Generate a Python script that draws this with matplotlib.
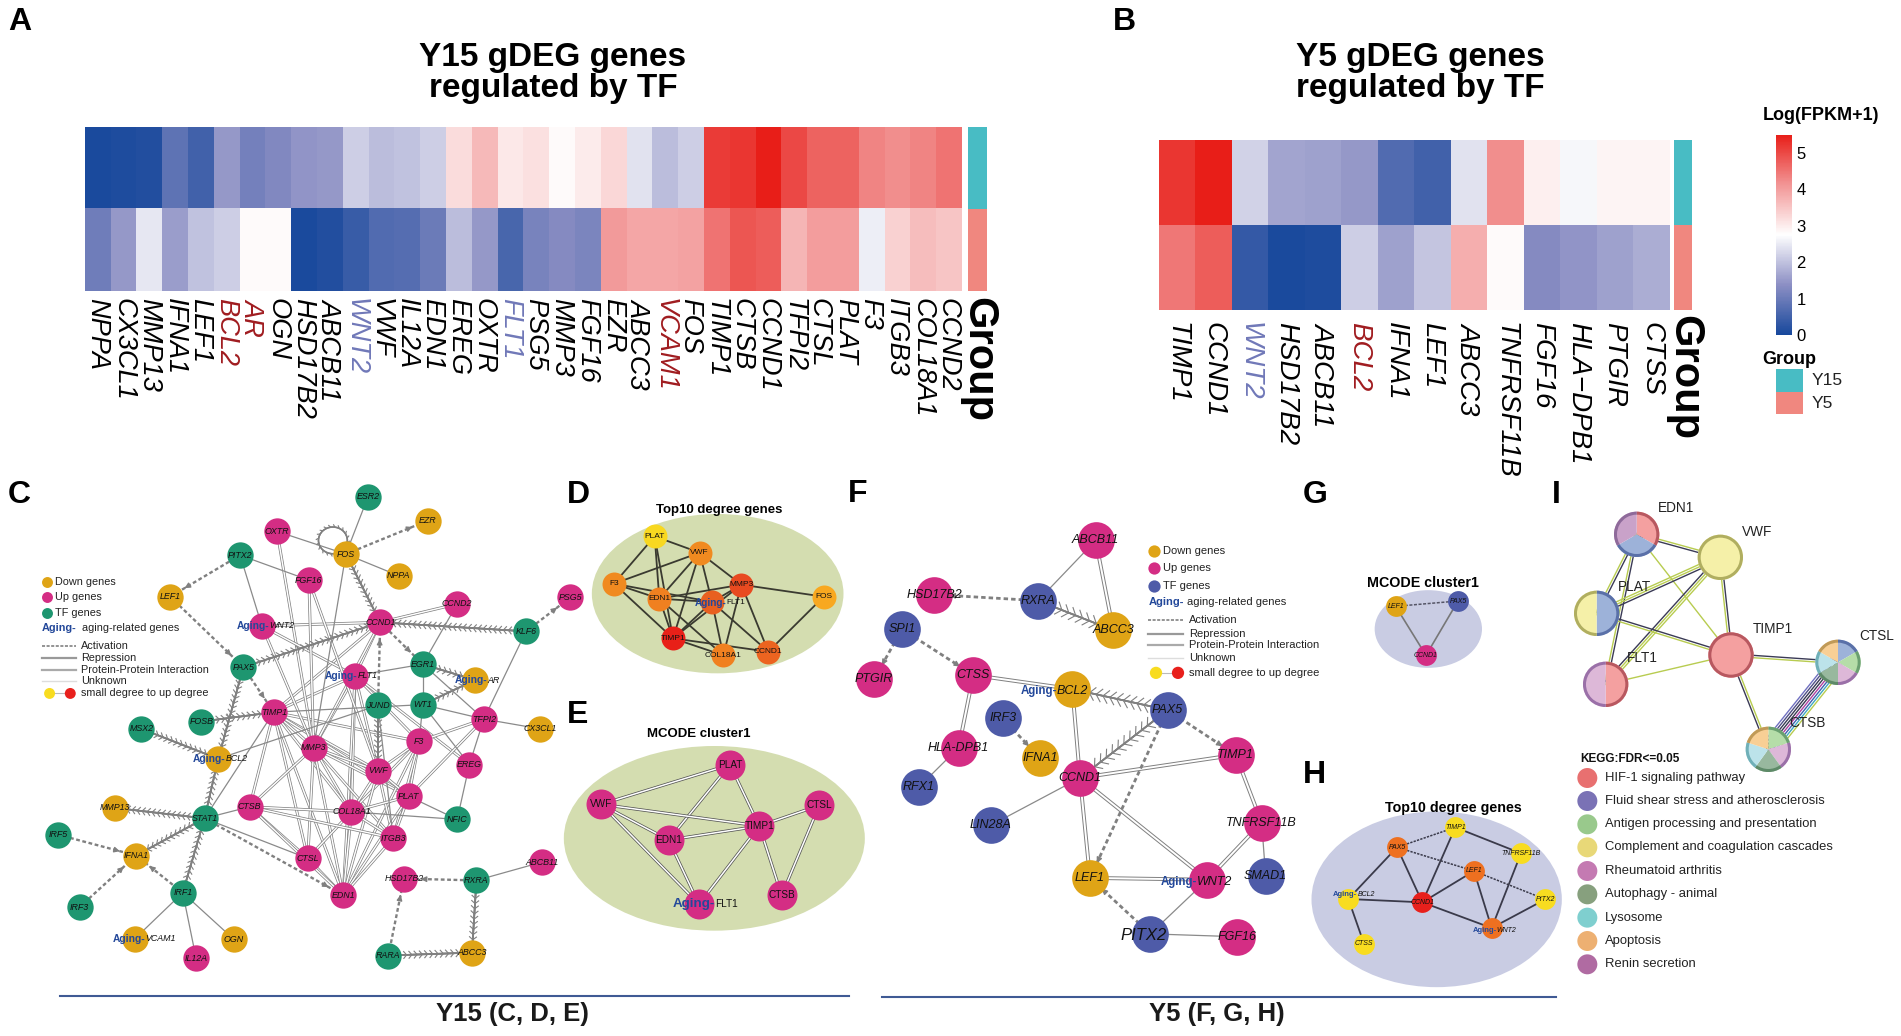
import numpy as np
import matplotlib
matplotlib.use('Agg')
import matplotlib.pyplot as plt
import matplotlib.patheffects as pe
from matplotlib.colors import LinearSegmentedColormap
from matplotlib.patches import Ellipse

plt.rcParams['font.family'] = ['Liberation Sans', 'DejaVu Sans']

W, H = 1901, 1036

# heatmap A
genes_a = ['NPPA', 'CX3CL1', 'MMP13', 'IFNA1', 'LEF1', 'BCL2', 'AR', 'OGN', 'HSD17B2', 'ABCB11', 'WNT2', 'VWF',
           'IL12A', 'EDN1', 'EREG', 'OXTR', 'FLT1', 'PSG5', 'MMP3', 'FGF16', 'EZR', 'ABCC3', 'VCAM1', 'FOS',
           'TIMP1', 'CTSB', 'CCND1', 'TFPI2', 'CTSL', 'PLAT', 'F3', 'ITGB3', 'COL18A1', 'CCND2']
y15_a = [0.05, 0.1, 0.15, 0.85, 0.5, 1.5, 1.1, 1.25, 1.45, 1.5, 2.15, 1.95, 2.0, 2.15, 3.2, 3.65, 3.05, 3.15, 2.8,
         3.0, 3.25, 2.4, 1.95, 2.15, 5.15, 5.2, 5.5, 5.0, 4.7, 4.7, 4.3, 4.2, 4.3, 4.5]
y5_a = [1.05, 1.5, 2.45, 1.55, 2.0, 2.15, 2.8, 2.8, 0.05, 0.15, 0.4, 0.7, 0.75, 1.0, 1.95, 1.5, 0.6, 1.15, 1.3,
        1.2, 4.05, 3.9, 3.9, 3.95, 4.5, 4.85, 4.75, 3.7, 4.0, 4.0, 2.55, 3.35, 3.6, 3.5]

# heatmap B
genes_b = ['TIMP1', 'CCND1', 'WNT2', 'HSD17B2', 'ABCB11', 'BCL2', 'IFNA1', 'LEF1', 'ABCC3', 'TNFRSF11B', 'FGF16',
           'HLA\u2212DPB1', 'PTGIR', 'CTSS']
y15_b = [5.2, 5.5, 2.2, 1.65, 1.6, 1.5, 0.7, 0.5, 2.4, 4.2, 2.95, 2.65, 2.9, 2.9]
y5_b = [4.45, 4.75, 0.35, 0.05, 0.1, 2.15, 1.6, 2.05, 3.8, 2.8, 1.3, 1.45, 1.6, 1.75]

red_genes = ['BCL2', 'AR', 'VCAM1']
blue_genes = ['WNT2', 'FLT1']

# network C, node: (x, y, kind)
nodes_c = {'ESR2': (995, 74, 't'), 'EZR': (1157, 140, 'd'), 'OXTR': (749, 170, 'u'), 'FOS': (935, 233, 'd'),
           'PITX2': (649, 236, 't'), 'NPPA': (1078, 293, 'd'), 'FGF16': (835, 305, 'u'), 'LEF1': (460, 351, 'd'),
           'CCND2': (1236, 371, 'u'), 'PSG5': (1542, 353, 'u'), 'WNT2': (708, 432, 'u'), 'CCND1': (1028, 422, 'u'),
           'KLF6': (1422, 447, 't'), 'EGR1': (1143, 538, 't'), 'PAX5': (658, 546, 't'), 'FLT1': (960, 570, 'u'),
           'AR': (1284, 582, 'd'), 'TIMP1': (740, 671, 'u'), 'JUND': (1022, 652, 't'), 'WT1': (1143, 650, 't'),
           'TFPI2': (1308, 690, 'u'), 'FOSB': (544, 697, 't'), 'MSX2': (382, 717, 't'), 'CX3CL1': (1460, 717, 'd'),
           'F3': (1133, 752, 'u'), 'MMP3': (848, 769, 'u'), 'BCL2': (590, 800, 'd'), 'EREG': (1269, 816, 'u'),
           'VWF': (1022, 833, 'u'), 'PLAT': (1105, 904, 'u'), 'CTSB': (675, 933, 'u'), 'COL18A1': (950, 947, 'u'),
           'MMP13': (310, 936, 'd'), 'STAT1': (553, 965, 't'), 'NFIC': (1236, 968, 't'), 'IRF5': (156, 1010, 't'),
           'ITGB3': (1063, 1020, 'u'), 'IFNA1': (368, 1068, 'd'), 'CTSL': (832, 1076, 'u'),
           'ABCB11': (1466, 1086, 'u'), 'HSD17B2': (1092, 1132, 'u'), 'RXRA': (1288, 1137, 't'),
           'IRF1': (494, 1171, 't'), 'EDN1': (928, 1178, 'u'), 'IRF3': (215, 1211, 't'), 'VCAM1': (365, 1298, 'd'),
           'OGN': (632, 1300, 'd'), 'RARA': (1050, 1345, 't'), 'ABCC3': (1276, 1337, 'd'), 'IL12A': (530, 1352, 'u')}
ppi_c = [('WNT2', 'CCND1'), ('CCND1', 'CCND2'), ('TIMP1', 'CCND1'), ('TIMP1', 'FLT1'), ('TIMP1', 'MMP3'),
         ('TIMP1', 'VWF'), ('TIMP1', 'PLAT'), ('TIMP1', 'F3'), ('TIMP1', 'CTSB'), ('TIMP1', 'CTSL'), ('TIMP1', 'EDN1'),
         ('TIMP1', 'COL18A1'), ('OXTR', 'MMP3'), ('WNT2', 'FLT1'), ('WNT2', 'MMP3'), ('FLT1', 'COL18A1'),
         ('FLT1', 'EDN1'), ('FLT1', 'CCND1'), ('FLT1', 'F3'), ('FLT1', 'VWF'), ('FLT1', 'EREG'), ('MMP3', 'FLT1'),
         ('MMP3', 'VWF'), ('MMP3', 'PLAT'), ('MMP3', 'ITGB3'), ('MMP3', 'COL18A1'), ('MMP3', 'EDN1'), ('MMP3', 'CTSL'),
         ('MMP3', 'CTSB'), ('CCND1', 'MMP3'), ('FGF16', 'MMP3'), ('FGF16', 'VWF'), ('F3', 'TFPI2'), ('F3', 'VWF'),
         ('F3', 'PLAT'), ('F3', 'EDN1'), ('F3', 'ITGB3'), ('F3', 'COL18A1'), ('VWF', 'PLAT'), ('VWF', 'COL18A1'),
         ('VWF', 'EDN1'), ('VWF', 'ITGB3'), ('PLAT', 'TFPI2'), ('PLAT', 'EDN1'), ('PLAT', 'COL18A1'), ('PLAT', 'ITGB3'),
         ('COL18A1', 'CTSB'), ('COL18A1', 'CTSL'), ('COL18A1', 'EDN1'), ('COL18A1', 'ITGB3'), ('CTSB', 'CTSL'),
         ('CTSB', 'ITGB3'), ('CTSL', 'EDN1'), ('ITGB3', 'EDN1'), ('CTSB', 'EDN1')]
act_c = [('FOS', 'EZR'), ('PITX2', 'LEF1'), ('LEF1', 'PAX5'), ('PAX5', 'TIMP1'), ('KLF6', 'PSG5'), ('CCND1', 'EGR1'),
         ('JUND', 'CCND1'), ('IRF5', 'IFNA1'), ('IRF3', 'IFNA1'), ('IRF1', 'IFNA1'), ('STAT1', 'EDN1'),
         ('RXRA', 'HSD17B2'), ('RARA', 'HSD17B2')]
rep_c = [('FOS', 'CCND1'), ('KLF6', 'CCND1'), ('PAX5', 'CCND1'), ('EGR1', 'AR'), ('WT1', 'AR'), ('FOSB', 'TIMP1'),
         ('MSX2', 'BCL2'), ('PAX5', 'BCL2'), ('STAT1', 'BCL2'), ('STAT1', 'MMP13'), ('STAT1', 'IFNA1'),
         ('IRF1', 'STAT1'), ('RXRA', 'ABCC3'), ('RARA', 'ABCC3'), ('JUND', 'VWF')]
unk_c = [('ESR2', 'FOS'), ('OXTR', 'FOS'), ('FOS', 'NPPA'), ('PITX2', 'FGF16'), ('PITX2', 'WNT2'), ('FOS', 'MMP3'),
         ('CCND2', 'EGR1'), ('KLF6', 'TFPI2'), ('FLT1', 'EGR1'), ('WT1', 'EGR1'), ('WT1', 'F3'), ('WT1', 'EREG'),
         ('WT1', 'TFPI2'), ('EGR1', 'TFPI2'), ('TIMP1', 'WT1'), ('TFPI2', 'CX3CL1'), ('TFPI2', 'EREG'),
         ('EREG', 'NFIC'), ('PLAT', 'NFIC'), ('COL18A1', 'NFIC'), ('BCL2', 'JUND'), ('STAT1', 'CTSB'), ('STAT1', 'CTSL'),
         ('STAT1', 'TIMP1'), ('IRF1', 'VCAM1'), ('IRF1', 'IL12A'), ('IRF1', 'OGN'), ('RXRA', 'ABCB11'),
         ('JUND', 'ITGB3')]
aging_c = {'WNT2': 728, 'FLT1': 967, 'AR': 1318, 'BCL2': 610, 'VCAM1': 392}

# network D
nodes_d = {'PLAT': (284, 199, '#F8D820'), 'VWF': (419, 248, '#F08A20'), 'F3': (162, 341, '#F08A20'),
           'MMP3': (544, 344, '#E84A20'), 'FOS': (791, 380, '#F8A820'), 'EDN1': (298, 386, '#F08020'),
           'FLT1': (456, 396, '#E86020'), 'TIMP1': (339, 505, '#E82018'), 'COL18A1': (490, 556, '#F08020'),
           'CCND1': (625, 545, '#EC6420')}
edges_d = [('PLAT', 'VWF'), ('PLAT', 'F3'), ('PLAT', 'EDN1'), ('PLAT', 'TIMP1'), ('VWF', 'F3'), ('VWF', 'EDN1'),
           ('VWF', 'FLT1'), ('VWF', 'MMP3'), ('VWF', 'TIMP1'), ('F3', 'EDN1'), ('F3', 'FLT1'), ('F3', 'TIMP1'),
           ('EDN1', 'FLT1'), ('EDN1', 'TIMP1'), ('EDN1', 'MMP3'), ('EDN1', 'COL18A1'), ('FLT1', 'MMP3'),
           ('FLT1', 'TIMP1'), ('FLT1', 'COL18A1'), ('FLT1', 'CCND1'), ('MMP3', 'TIMP1'), ('MMP3', 'CCND1'),
           ('MMP3', 'COL18A1'), ('MMP3', 'FOS'), ('FOS', 'CCND1'), ('TIMP1', 'COL18A1'), ('TIMP1', 'CCND1')]

# network E
nodes_e = {'PLAT': (510, 884), 'VWF': (123, 1003), 'CTSL': (778, 1006), 'TIMP1': (598, 1068), 'EDN1': (326, 1110),
           'CTSB': (665, 1276), 'FLT1': (417, 1303)}
edges_e = [('PLAT', 'VWF'), ('PLAT', 'EDN1'), ('PLAT', 'TIMP1'), ('VWF', 'TIMP1'), ('VWF', 'EDN1'), ('VWF', 'FLT1'),
           ('EDN1', 'TIMP1'), ('EDN1', 'FLT1'), ('TIMP1', 'FLT1'), ('TIMP1', 'CTSL'), ('TIMP1', 'CTSB'),
           ('CTSL', 'CTSB')]

# network F
nodes_f = {'ABCB11': (767, 195, 'u'), 'HSD17B2': (282, 345, 'u'), 'RXRA': (594, 362, 't'), 'ABCC3': (820, 444, 'd'),
           'SPI1': (186, 441, 't'), 'PTGIR': (102, 580, 'u'), 'CTSS': (400, 568, 'u'), 'BCL2': (697, 607, 'd'),
           'PAX5': (983, 665, 't'), 'IRF3': (488, 688, 't'), 'HLA-DPB1': (356, 769, 'u'), 'IFNA1': (600, 798, 'd'),
           'TIMP1': (1187, 789, 'u'), 'CCND1': (720, 853, 'u'), 'RFX1': (237, 878, 't'), 'LIN28A': (453, 984, 't'),
           'TNFRSF11B': (1265, 977, 'u'), 'LEF1': (750, 1130, 'd'), 'WNT2': (1102, 1135, 'u'),
           'SMAD1': (1277, 1125, 't'), 'PITX2': (931, 1285, 't'), 'FGF16': (1191, 1293, 'u')}
ppi_f = [('ABCB11', 'ABCC3'), ('CTSS', 'BCL2'), ('CTSS', 'HLA-DPB1'), ('BCL2', 'CCND1'), ('CCND1', 'TIMP1'),
         ('CCND1', 'LEF1'), ('CCND1', 'WNT2'), ('TIMP1', 'TNFRSF11B'), ('TNFRSF11B', 'WNT2'), ('LEF1', 'WNT2')]
act_f = [('RXRA', 'HSD17B2'), ('SPI1', 'PTGIR'), ('SPI1', 'CTSS'), ('IRF3', 'IFNA1'), ('PAX5', 'LEF1'),
         ('PAX5', 'TIMP1'), ('PITX2', 'LEF1')]
rep_f = [('RXRA', 'ABCC3'), ('PAX5', 'BCL2'), ('PAX5', 'CCND1')]
unk_f = [('ABCB11', 'RXRA'), ('HLA-DPB1', 'RFX1'), ('CCND1', 'LIN28A'), ('TNFRSF11B', 'SMAD1'), ('PITX2', 'WNT2'),
         ('PITX2', 'FGF16')]
aging_f = {'BCL2': 650, 'WNT2': 1070}

# network G and H
nodes_g = {'LEF1': (227, 409, 'd'), 'PAX5': (414, 393, 'T'), 'CCND1': (318, 556, 'u')}
nodes_h = {'TIMP1': (406, 1072, '#F8DC20'), 'PAX5': (231, 1132, '#EE7020'), 'TNFRSF11B': (603, 1150, '#F8DC20'),
           'LEF1': (462, 1203, '#EE7020'), 'BCL2': (85, 1287, '#F8DC20'), 'CCND1': (307, 1297, '#E8201C'),
           'PITX2': (676, 1288, '#F8DC20'), 'WNT2': (515, 1374, '#EE7020'), 'CTSS': (132, 1421, '#F8DC20')}
solid_h = [('TIMP1', 'TNFRSF11B'), ('TIMP1', 'CCND1'), ('PAX5', 'BCL2'), ('PAX5', 'CCND1'), ('LEF1', 'CCND1'),
           ('LEF1', 'WNT2'), ('TNFRSF11B', 'WNT2'), ('BCL2', 'CCND1'), ('BCL2', 'CTSS'), ('CCND1', 'WNT2'),
           ('WNT2', 'PITX2')]
dashed_h = [('PAX5', 'TIMP1'), ('PAX5', 'LEF1'), ('LEF1', 'PITX2')]

# network I, pies go clockwise from 12 o'clock
c_hif, c_flu, c_ren, c_com = '#F4A0A0', '#9DB2D9', '#C9A2C9', '#F5F0A8'
c_ant, c_rhe, c_aut, c_lys, c_apo = '#B5DDA8', '#DDB8D8', '#98B89E', '#BCE3EA', '#F8CF95'
ring = {c_hif: '#B85860', c_flu: '#5A70A8', c_ren: '#8E6A9A', c_com: '#B0AE60', c_ant: '#6AA070',
        c_rhe: '#9A70A8', c_aut: '#5E8A68', c_lys: '#70B0B8', c_apo: '#C09A58'}
nodes_i = {'EDN1': (290, 193, [c_hif, c_flu, c_ren]), 'VWF': (541, 262, [c_com]), 'PLAT': (170, 430, [c_flu, c_com]),
           'TIMP1': (573, 555, [c_hif]), 'FLT1': (197, 643, [c_hif, c_rhe]),
           'CTSL': (894, 577, [c_flu, c_ant, c_rhe, c_aut, c_lys, c_apo]),
           'CTSB': (685, 838, [c_ant, c_rhe, c_aut, c_lys, c_apo])}
labels_i = {'EDN1': (355, 115), 'VWF': (605, 185), 'PLAT': (233, 350), 'TIMP1': (637, 478), 'FLT1': (262, 565),
            'CTSL': (957, 498), 'CTSB': (748, 760)}
dk, gn = '#3A3A55', '#B8CC50'
edges_i = [('EDN1', 'VWF', [gn, dk]), ('EDN1', 'PLAT', [dk, gn]), ('EDN1', 'FLT1', [dk, gn]), ('EDN1', 'TIMP1', [gn]),
           ('VWF', 'PLAT', [dk, gn, gn]), ('VWF', 'FLT1', [gn, gn, dk]), ('VWF', 'TIMP1', [dk, gn]),
           ('PLAT', 'TIMP1', [dk, gn]), ('FLT1', 'TIMP1', [gn]), ('TIMP1', 'CTSL', [dk, gn]),
           ('TIMP1', 'CTSB', [gn, dk]),
           ('CTSL', 'CTSB', [gn, '#40A8C0', '#4060B0', '#B040A0', dk, dk, '#505088', '#7070C0'])]
kegg_terms = ['HIF-1 signaling pathway', 'Fluid shear stress and atherosclerosis', 'Antigen processing and presentation',
              'Complement and coagulation cascades', 'Rheumatoid arthritis', 'Autophagy - animal', 'Lysosome',
              'Apoptosis', 'Renin secretion']
kegg_cols = ['#E87070', '#7A72B5', '#99C98C', '#E8D878', '#C47AB2', '#87A07E', '#7FCFCF', '#EDB072', '#B06BA2']
kegg_y = [924, 993, 1063, 1132, 1203, 1273, 1343, 1413, 1483]

node_cols_c = {'d': '#DFA416', 'u': '#D42D84', 't': '#1E9670', 'T': '#4E5BA8'}
node_cols_f = {'d': '#DFA416', 'u': '#D42D84', 't': '#4E5BA8', 'T': '#4E5BA8'}
aging_blue = '#23489A'

fig = plt.figure(figsize=(W / 100, H / 100), dpi=100, facecolor='white')


def px_ax(x, y, w, h):
    return fig.add_axes([x / W, 1 - (y + h) / H, w / W, h / H])


def net_ax(x, y, w, h, xmax, ymax):
    ax = px_ax(x, y, w, h)
    ax.set_xlim(0, xmax)
    ax.set_ylim(ymax, 0)
    ax.axis('off')
    ax.patch.set_alpha(0)
    return ax


def draw_ppi(ax, p, q, col='#808080', width=2.1):
    # double line: dark wide stroke with a white one on top
    ax.plot([p[0], q[0]], [p[1], q[1]], color=col, lw=width, zorder=1, solid_capstyle='butt')
    ax.plot([p[0], q[0]], [p[1], q[1]], color='white', lw=width * 0.5, zorder=1, solid_capstyle='butt')


def draw_act(ax, p, q, lw=1.7, head=8):
    ax.plot([p[0], q[0]], [p[1], q[1]], color='#808080', lw=lw, ls=(0, (1.6, 1.1)), zorder=1)
    p, q = np.array(p[:2], float), np.array(q[:2], float)
    d = np.hypot(*(q - p))
    tip = q - (q - p) * 38 / d
    ax.annotate('', xy=tip, xytext=tip - (q - p) / d * 20,
                arrowprops=dict(arrowstyle='-|>', color='#808080', lw=1, mutation_scale=head), zorder=1)


def draw_rep(ax, p, q, spacing=3.6, length=0.9):
    ax.plot([p[0], q[0]], [p[1], q[1]], color='#808080', lw=1.2, zorder=1,
            path_effects=[pe.Normal(),
                          pe.withTickedStroke(angle=130, spacing=spacing, length=length, linewidth=0.8,
                                              foreground='#808080'),
                          pe.withTickedStroke(angle=-130, spacing=spacing, length=length, linewidth=0.8,
                                              foreground='#808080')])


def draw_unk(ax, p, q):
    ax.plot([p[0], q[0]], [p[1], q[1]], color='#8A8A8A', lw=0.9, zorder=1)


def aging_label(ax, x, y, gene, fs_a, fs_g, italic=True):
    ax.text(x, y, 'Aging-', color=aging_blue, fontweight='bold', fontsize=fs_a, ha='right', va='center', zorder=4)
    ax.text(x, y, gene, color='#111111', style='italic' if italic else 'normal', fontsize=fs_g, ha='left',
            va='center', zorder=4)


def legend_block(ax, tf_col, dot_x, dot_ys, text_x, aging_x, aging_y, aging_tx, line_x, line_ys, line_tx, deg, fs,
                 msize):
    for y, c, t in zip(dot_ys, ['#DFA416', '#D42D84', tf_col], ['Down genes', 'Up genes', 'TF genes']):
        ax.scatter([dot_x], [y], s=msize, color=c, linewidths=0, zorder=3)
        ax.text(text_x, y, t, fontsize=fs, color='#222222', va='center')
    ax.text(aging_x, aging_y, 'Aging-', fontsize=fs, color=aging_blue, fontweight='bold', va='center')
    ax.text(aging_tx, aging_y, 'aging-related genes', fontsize=fs, color='#222222', va='center')
    styles = [('#777777', 1.1, (0, (2, 1))), ('#999999', 1.6, '-'), ('#aaaaaa', 1.6, '-'), ('#dddddd', 1.0, '-')]
    names = ['Activation', 'Repression', 'Protein-Protein Interaction', 'Unknown']
    for y, st, t in zip(line_ys, styles, names):
        ax.plot(line_x, [y, y], color=st[0], lw=st[1], ls=st[2])
        ax.text(line_tx, y, t, fontsize=fs, color='#222222', va='center')
    ax.plot(deg[:2], [deg[2], deg[2]], color='#bbbbbb', lw=0.8, zorder=1)
    ax.scatter(deg[:2], [deg[2], deg[2]], s=msize, color=['#F8DC20', '#E8201C'], linewidths=0, zorder=3)
    ax.text(deg[3], deg[2], 'small degree to up degree', fontsize=fs, color='#222222', va='center')


# heatmaps
cmap = LinearSegmentedColormap.from_list('fpkm', [(0, '#17489C'), (0.25, '#8C8FC4'), (0.5, '#FFFFFF'),
                                                  (0.75, '#F29595'), (1, '#E81E18')])


def heatmap(rect, genes, top, bottom, pad, fs):
    ax = px_ax(*rect)
    im = ax.imshow(np.array([top, bottom]), cmap=cmap, vmin=0, vmax=5.5, aspect='auto', interpolation='nearest')
    ax.set_yticks([])
    ax.set_xticks(range(len(genes)))
    ax.set_xticklabels(genes, rotation=270, style='italic', fontsize=fs, va='top', ha='center')
    ax.tick_params(axis='x', length=0, pad=pad)
    for lab, g in zip(ax.get_xticklabels(), genes):
        if g in red_genes:
            lab.set_color('#A01C20')
        elif g in blue_genes:
            lab.set_color('#7078B8')
    for s in ax.spines.values():
        s.set_visible(False)
    return im


def group_bar(rect):
    ax = px_ax(*rect)
    ax.bar([0, 0], [1, 1], bottom=[0, 1], width=1, color=['#F0877F', '#48BCC4'])
    ax.set_xlim(-0.5, 0.5)
    ax.set_ylim(0, 2)
    ax.axis('off')


im = heatmap((84.6, 127, 876.1, 164.3), genes_a, y15_a, y5_a, 4.5, 19.6)
group_bar((967.7, 127, 19.3, 164.3))
heatmap((1158.7, 140, 510.6, 170), genes_b, y15_b, y5_b, 8.5, 20)
group_bar((1673.7, 140, 18.6, 170))

# colourbar
cax = px_ax(1776.3, 134.5, 15.4, 200.5)
cb = fig.colorbar(im, cax=cax, ticks=[0, 1, 2, 3, 4, 5])
cb.outline.set_visible(False)
cax.tick_params(length=0, labelsize=12, pad=3.5)

# Whole page axis for loose text, coordinates are pixels
page = net_ax(0, 0, W, H, W, H)
page.set_zorder(5)
letters = {'A': (8, 22), 'B': (1113, 22), 'C': (8, 495), 'D': (567, 495), 'E': (567, 715), 'F': (848, 494),
           'G': (1303, 495), 'H': (1303, 775), 'I': (1552, 495)}
for k, (x, y) in letters.items():
    page.text(x, y, k, fontsize=23, fontweight='bold', va='center', ha='left', color='black')
page.text(553, 73, 'Y15 gDEG genes\nregulated by TF', fontsize=24, fontweight='bold', ha='center', va='center',
          linespacing=0.97)
page.text(1420, 73, 'Y5 gDEG genes\nregulated by TF', fontsize=24, fontweight='bold', ha='center', va='center',
          linespacing=0.97)
page.text(978, 297, 'Group', fontsize=30, fontweight='bold', rotation=270, ha='center', va='top')
page.text(1684, 315, 'Group', fontsize=30, fontweight='bold', rotation=270, ha='center', va='top')
page.text(1762.7, 115, 'Log(FPKM+1)', fontsize=13, fontweight='bold', va='center')
page.text(1762.7, 359, 'Group', fontsize=13, fontweight='bold', va='center')
page.bar([1789.5, 1789.5], [22.7, 22.7], bottom=[369, 391.7], width=26.4, color=['#48BCC4', '#F0877F'])
page.text(1811.7, 380.5, 'Y15', fontsize=12.5, va='center', color='#222222')
page.text(1811.7, 404, 'Y5', fontsize=12.5, va='center', color='#222222')
page.plot([60, 849], [996, 996], color='#3F5A94', lw=1.5)
page.plot([882, 1556], [997, 997], color='#3F5A94', lw=1.5)
page.text(436, 1014, 'Y15 (C, D, E)', fontsize=18.5, fontweight='bold', va='center', color='#1a1a1a')
page.text(1149, 1014, 'Y5 (F, G, H)', fontsize=18.5, fontweight='bold', va='center', color='#1a1a1a')

# panel C
ax = net_ax(0, 470, 580, 566, 1568, 1568)
for a, b in ppi_c:
    draw_ppi(ax, nodes_c[a], nodes_c[b])
for a, b in act_c:
    draw_act(ax, nodes_c[a], nodes_c[b])
for a, b in rep_c:
    draw_rep(ax, nodes_c[a], nodes_c[b])
for a, b in unk_c:
    draw_unk(ax, nodes_c[a], nodes_c[b])
loop = Ellipse((900, 195), 78, 74, fill=False, edgecolor='#808080', lw=1.1, zorder=1,
               path_effects=[pe.Normal(), pe.withTickedStroke(angle=130, spacing=3, length=0.8, linewidth=0.8,
                                                              foreground='#808080')])
ax.add_patch(loop)
for g, (x, y, k) in nodes_c.items():
    ax.scatter([x], [y], s=360, color=node_cols_c[k], linewidths=0, zorder=3, clip_on=False)
    if g in aging_c:
        aging_label(ax, aging_c[g], y, g, 7.4, 6.4)
    else:
        ax.text(x, y, g, style='italic', fontsize=6.4, ha='center', va='center', color='#111111', zorder=4,
                clip_on=False)
legend_block(ax, '#1E9670', 128, [309, 352, 395], 150, 113, 438, 222, [113, 205], [488, 521, 553, 584], 220,
             (134, 190, 619, 218), 7.8, 62)

# panels D and E
ax = net_ax(560, 470, 300, 480, 900, 1440)
ax.add_patch(Ellipse((473, 371), 755, 478, color='#D4DDB0', lw=0, zorder=0))
ax.add_patch(Ellipse((463, 1105), 903, 554, color='#D4DDB0', lw=0, zorder=0, clip_on=False))
ax.text(477, 120, 'Top10 degree genes', fontsize=9.5, fontweight='bold', ha='center', va='center')
ax.text(416, 792, 'MCODE cluster1', fontsize=9.5, fontweight='bold', ha='center', va='center')
for a, b in edges_d:
    ax.plot([nodes_d[a][0], nodes_d[b][0]], [nodes_d[a][1], nodes_d[b][1]], color='#3A3A30', lw=1.3, zorder=1)
for g, (x, y, c) in nodes_d.items():
    ax.scatter([x], [y], s=298, color=c, linewidths=0, zorder=3)
    if g == 'FLT1':
        aging_label(ax, 498, 398, g, 7.2, 6, italic=False)
    else:
        ax.text(x, y, g, fontsize=6, ha='center', va='center', color='#111111', zorder=4)
for a, b in edges_e:
    draw_ppi(ax, nodes_e[a], nodes_e[b], col='#555555', width=2.2)
for g, (x, y) in nodes_e.items():
    ax.scatter([x], [y], s=466, color='#D42D84', linewidths=0, zorder=3)
    if g == 'FLT1':
        aging_label(ax, 465, 1302, g, 9.6, 7.2, italic=False)
    else:
        ax.text(x, y, g, fontsize=7.2, ha='center', va='center', color='#111111', zorder=4)

# panel F
ax = net_ax(840, 470, 500, 566, 1500, 1568)
for a, b in ppi_f:
    draw_ppi(ax, nodes_f[a], nodes_f[b], width=2.8)
for a, b in act_f:
    draw_act(ax, nodes_f[a], nodes_f[b], lw=2)
for a, b in rep_f:
    draw_rep(ax, nodes_f[a], nodes_f[b], spacing=5, length=1.2)
for a, b in unk_f:
    draw_unk(ax, nodes_f[a], nodes_f[b])
for g, (x, y, k) in nodes_f.items():
    ax.scatter([x], [y], s=697, color=node_cols_f[k], linewidths=0, zorder=3)
    if g in aging_f:
        aging_label(ax, aging_f[g], y + 5, g, 8.3, 9)
    elif g == 'PITX2':
        ax.text(912, y + 5, g, style='italic', fontsize=12, ha='center', va='center', color='#111111', zorder=4)
    else:
        ax.text(x, y, g, style='italic', fontsize=9, ha='center', va='center', color='#111111', zorder=4)
legend_block(ax, '#4E5BA8', 941, [224, 272, 321], 968, 925, 366, 1042, [925, 1030], [415, 453, 485, 522], 1048,
             (948, 1014, 562, 1046), 8, 78)

# panels G and H
ax = net_ax(1320, 470, 240, 500, 720, 1500)
ax.add_patch(Ellipse((325, 477), 322, 233, color='#C9CCE3', lw=0, zorder=0))
ax.add_patch(Ellipse((350, 1288), 751, 527, color='#C9CCE3', lw=0, zorder=0, clip_on=False))
ax.text(308, 340, 'MCODE cluster1', fontsize=10.3, fontweight='bold', ha='center', va='center')
ax.text(400, 1013, 'Top10 degree genes', fontsize=10.3, fontweight='bold', ha='center', va='center')
ax.plot([227, 414], [409, 393], color='#555566', lw=1.1, ls=(0, (2, 1)), zorder=1)
ax.plot([227, 318, 414], [409, 556, 393], color='#777777', lw=1.2, zorder=1)
for g, (x, y, k) in nodes_g.items():
    ax.scatter([x], [y], s=225, color=node_cols_f[k], linewidths=0, zorder=3)
    ax.text(x, y, g, style='italic', fontsize=5, ha='center', va='center', color='#111111', zorder=4)
for a, b in solid_h:
    ax.plot([nodes_h[a][0], nodes_h[b][0]], [nodes_h[a][1], nodes_h[b][1]], color='#3A3A4A', lw=1.3, zorder=1)
for a, b in dashed_h:
    ax.plot([nodes_h[a][0], nodes_h[b][0]], [nodes_h[a][1], nodes_h[b][1]], color='#3A3A4A', lw=1.1,
            ls=(0, (1.5, 0.8)), zorder=1)
for g, (x, y, c) in nodes_h.items():
    ax.scatter([x], [y], s=225, color=c, linewidths=0, zorder=3)
    if g == 'BCL2':
        aging_label(ax, 112, 1274, g, 5.5, 5)
    elif g == 'WNT2':
        aging_label(ax, 530, 1381, g, 5.5, 5)
    else:
        ax.text(x, y, g, style='italic', fontsize=5, ha='center', va='center', color='#111111', zorder=4)

# panel I
ax = net_ax(1540, 470, 361, 520, 1083, 1560)
for a, b, cols in edges_i:
    p, q = np.array(nodes_i[a][:2], float), np.array(nodes_i[b][:2], float)
    n = np.array([-(q - p)[1], (q - p)[0]]) / np.hypot(*(q - p))
    for off, c in zip((np.arange(len(cols)) - (len(cols) - 1) / 2) * 7, cols):
        ax.plot([p[0] + n[0] * off, q[0] + n[0] * off], [p[1] + n[1] * off, q[1] + n[1] * off], color=c, lw=1,
                zorder=1)
for g, (x, y, cols) in nodes_i.items():
    ax.pie([1] * len(cols), colors=cols, center=(x, y), radius=68, startangle=270, counterclock=True, frame=True,
           wedgeprops=dict(linewidth=0, zorder=3))
    ax.pie([1] * len(cols), colors=[ring[c] for c in cols], center=(x, y), radius=68, startangle=270,
           counterclock=True, frame=True, wedgeprops=dict(linewidth=0, width=9, zorder=3))
    ax.text(*labels_i[g], g, fontsize=9.8, color='#222222', ha='left', va='center', zorder=4)
ax.set_xlim(0, 1083)
ax.set_ylim(1560, 0)
ax.axis('off')
ax.text(120, 867, 'KEGG:FDR<=0.05', fontsize=8.5, fontweight='bold', va='center', color='#111111')
ax.scatter([142] * len(kegg_y), kegg_y, s=207, color=kegg_cols, linewidths=0)
for y, t in zip(kegg_y, kegg_terms):
    ax.text(195, y, t, fontsize=9.4, color='#222222', va='center')

fig.savefig('out.png', dpi=100, facecolor='white')
